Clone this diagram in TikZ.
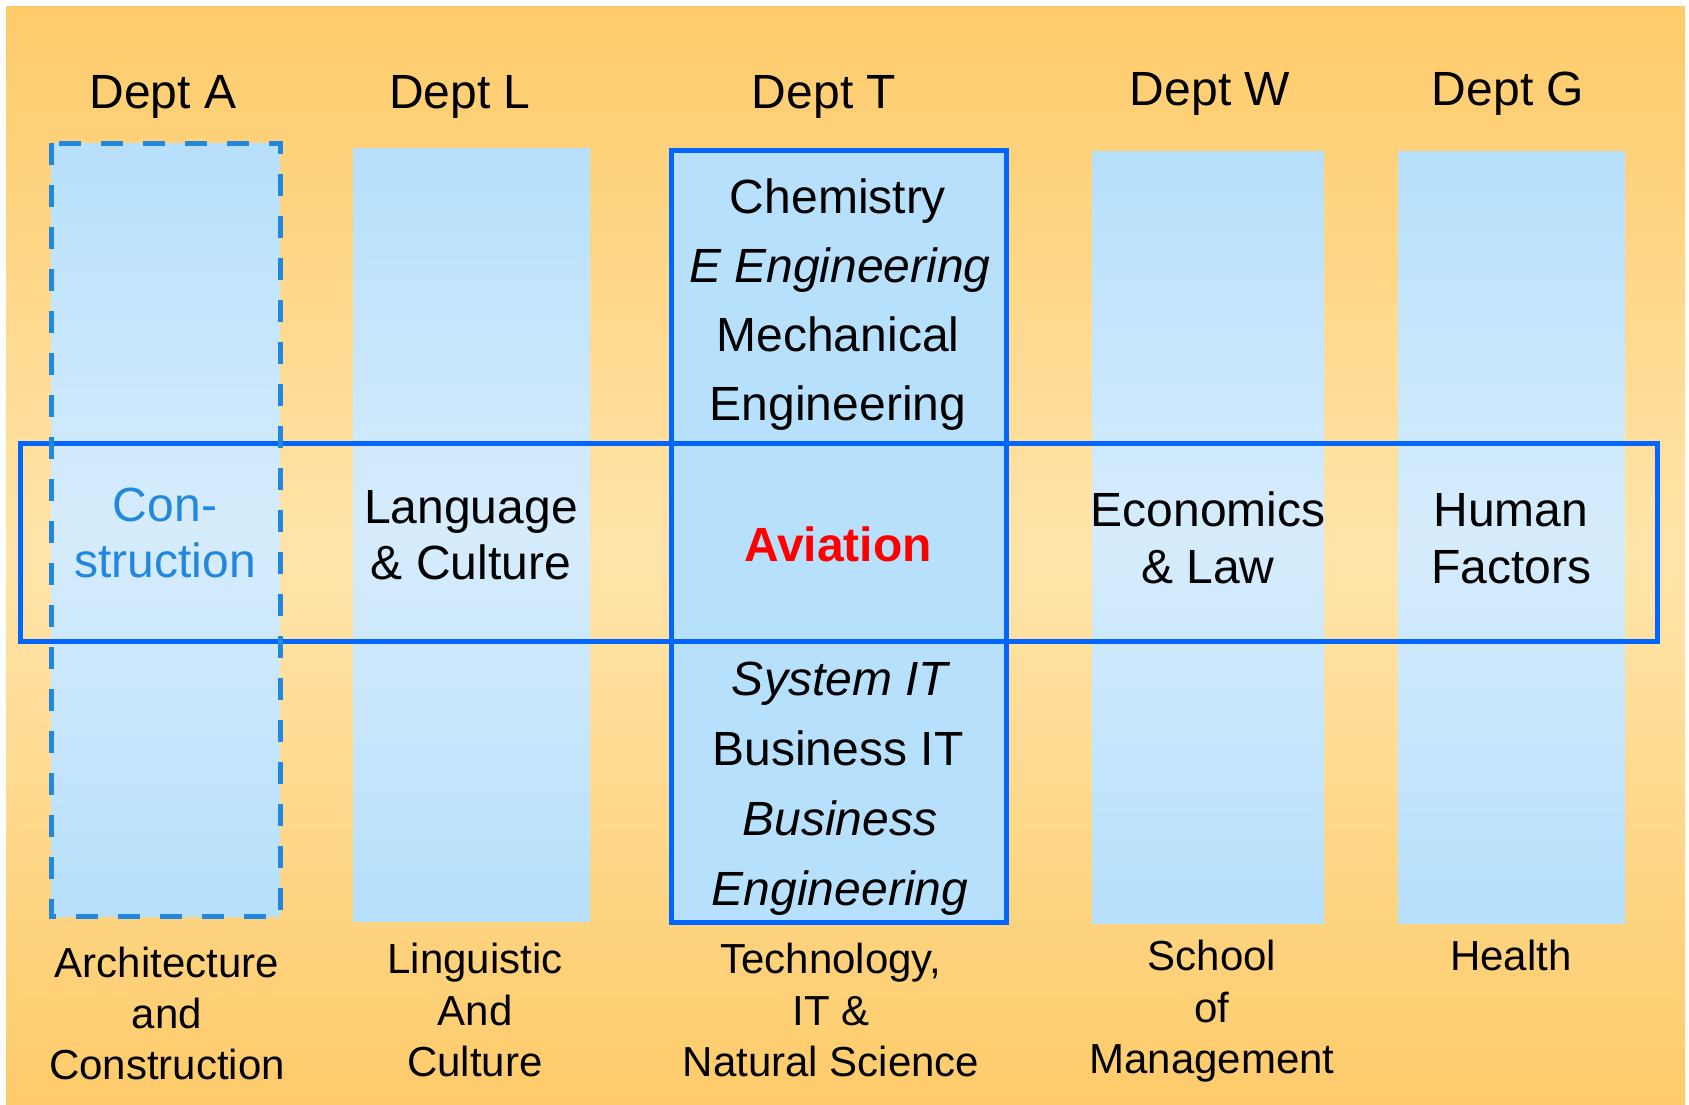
\documentclass[tikz,border=0pt]{standalone}
\usepackage{fontspec}
\setmainfont{Liberation Sans}
\definecolor{bgO}{HTML}{FECB6A}
\definecolor{bgL}{HTML}{FFE4AA}
\definecolor{colB}{HTML}{B7E0FC}
\definecolor{colL}{HTML}{D6ECFC}
\definecolor{lineB}{HTML}{0066FF}
\definecolor{dashB}{HTML}{2288DD}
\definecolor{aviR}{HTML}{FF0000}
\begin{document}
\begin{tikzpicture}[x=1pt,y=-1pt,
  lbl/.style={anchor=base,inner sep=0pt,font=\fontsize{48}{56}\selectfont},
  sml/.style={anchor=base,inner sep=0pt,font=\fontsize{42}{50}\selectfont},
  colshade/.style={top color=colB,bottom color=colB,middle color=colL},
  frame/.style={draw=lineB,line width=5pt}]
\useasboundingbox (0,0) rectangle (1689,1104);
% background
\shade[top color=bgO,bottom color=bgO,middle color=bgL] (6,6) rectangle (1685,1104);
% columns
\shade[colshade] (51,143) rectangle (280,916);
\shade[colshade] (353,148) rectangle (590,921);
\shade[colshade] (1092,151) rectangle (1324,923);
\shade[colshade] (1398,151) rectangle (1625,923);
\fill[colB] (671,150) rectangle (1006,922);
% frames
\draw[frame] (671,150) rectangle (1006,922);
\draw[frame] (20,443) rectangle (1657,641);
\draw[draw=dashB,line width=5pt,dash pattern=on 22pt off 20pt] (51,143) rectangle (280,916);
% department headers
\node[lbl] (hA) at (163,108) {Dept A};
\node[lbl] (hL) at (460,108) {Dept L};
\node[lbl] (hT) at (824,108) {Dept T};
\node[lbl] (hW) at (1210,105) {Dept W};
\node[lbl] (hG) at (1508,105) {Dept G};
% Dept T upper
\node[lbl] (t1) at (838,213) {Chemistry};
\node[lbl] (t2) at (840,282) {\itshape E Engineering};
\node[lbl] (t3) at (838,351) {Mechanical};
\node[lbl] (t4) at (838,420) {Engineering};
% Dept T lower
\node[lbl] (b1) at (840,695) {\itshape System IT};
\node[lbl] (b2) at (838,765) {Business IT};
\node[lbl] (b3) at (840,835) {\itshape Business};
\node[lbl] (b4) at (840,905) {\itshape Engineering};
% band
\node[lbl,text=dashB] (c1) at (165,521) {Con-};
\node[lbl,text=dashB] (c2) at (165,577) {struction};
\node[lbl] (l1) at (471,523) {Language};
\node[lbl] (l2) at (471,579) {\& Culture};
\node[lbl,text=aviR,font=\fontsize{48}{56}\selectfont\bfseries] (av) at (838,561) {Aviation};
\node[lbl] (e1) at (1208,526) {Economics};
\node[lbl] (e2) at (1208,583) {\& Law};
\node[lbl] (h1) at (1511,526) {Human};
\node[lbl] (h2) at (1511,583) {Factors};
% bottom labels
\node[sml] (fA1) at (167,977) {Architecture};
\node[sml] (fA2) at (167,1028) {and};
\node[sml] (fA3) at (167,1079) {Construction};
\node[sml] (fL1) at (475,973) {Linguistic};
\node[sml] (fL2) at (475,1025) {And};
\node[sml] (fL3) at (475,1076) {Culture};
\node[sml] (fT1) at (831,973) {Technology,};
\node[sml] (fT2) at (831,1025) {IT \&};
\node[sml] (fT3) at (831,1076) {Natural Science};
\node[sml] (fW1) at (1212,970) {School};
\node[sml] (fW2) at (1212,1022) {of};
\node[sml] (fW3) at (1212,1073) {Management};
\node[sml] (fG1) at (1511,970) {Health};
\end{tikzpicture}
\end{document}
